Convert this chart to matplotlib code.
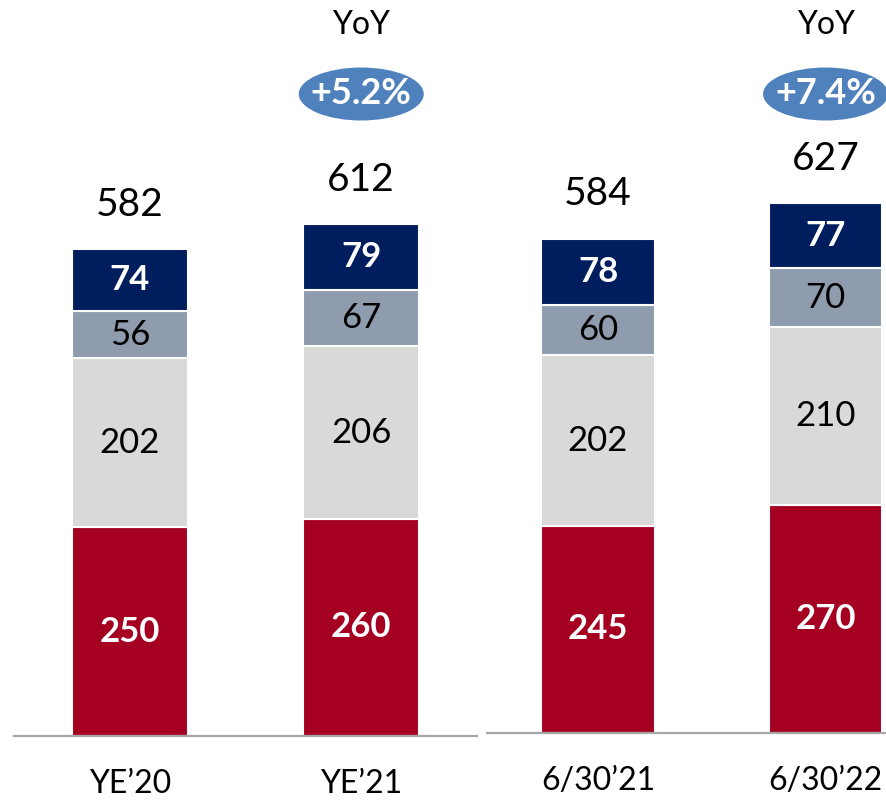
import matplotlib.pyplot as plt
import matplotlib.transforms as mtransforms
from matplotlib.patches import Ellipse
import numpy as np

plt.rcParams['font.family'] = ['Lato', 'DejaVu Sans']

# ---- data ----
groups = [["YE\u201920", "YE\u201921"], ["6/30\u201921", "6/30\u201922"]]
red_vals = [[250, 260], [245, 270]]
light_vals = [[202, 206], [202, 210]]
grey_vals = [[56, 67], [60, 70]]
navy_vals = [[74, 79], [78, 77]]
totals = [[582, 612], [584, 627]]
yoy = ["+5.2%", "+7.4%"]

colors = ["#A50021", "#D9D9D9", "#8F9CAE", "#001E5E"]
label_colors = ["white", "black", "black", "white"]
label_weights = ["bold", "normal", "normal", "bold"]

W, H = 887, 802
fig = plt.figure(figsize=(W / 100, H / 100), dpi=100)

# axes positions in pixels: left, right, baseline y, px per unit, xlim
layouts = [
    dict(x0=14, x1=477, base=736, ppu=0.836, xlim=(-0.5, 1.5)),
    dict(x0=487, x1=887, base=733, ppu=0.845, xlim=(-0.488, 1.27)),
]

for g, lay in enumerate(layouts):
    ax = fig.add_axes([lay["x0"] / W, (H - lay["base"]) / H,
                       (lay["x1"] - lay["x0"]) / W, lay["base"] / H])
    ax.set_xlim(*lay["xlim"])
    ax.set_ylim(0, lay["base"] / lay["ppu"])
    x = np.arange(2)
    bottom = np.zeros(2)
    series = [red_vals[g], light_vals[g], grey_vals[g], navy_vals[g]]
    for vals, c, lc, lw in zip(series, colors, label_colors, label_weights):
        bars = ax.bar(x, vals, bottom=bottom, width=0.5, color=c,
                      edgecolor="white", linewidth=1.5)
        ax.bar_label(bars, labels=[str(v) for v in vals], label_type="center",
                     color=lc, fontweight=lw, fontsize=25)
        bottom += np.array(vals)

    for i, t in enumerate(totals[g]):
        ax.annotate(str(t), (x[i], bottom[i]), xytext=(0, 32),
                    textcoords="offset points", ha="center", va="center",
                    fontsize=28, color="black")

    # YoY bubble above the second bar
    trans = mtransforms.blended_transform_factory(ax.transData, ax.transAxes)
    px_per_x = (lay["x1"] - lay["x0"]) / (lay["xlim"][1] - lay["xlim"][0])
    ax.add_patch(Ellipse((1, 1 - 94 / lay["base"]), 125 / px_per_x,
                         53 / lay["base"], transform=trans, facecolor="#4F81BD",
                         edgecolor="none", clip_on=False))
    ax.text(1, 1 - 94 / lay["base"], yoy[g], transform=trans, ha="center",
            va="center", color="white", fontweight="bold", fontsize=26)
    ax.text(1, 1 - 25 / lay["base"], "YoY", transform=trans, ha="center",
            va="center", color="black", fontsize=23)

    for s in ["top", "left", "right"]:
        ax.spines[s].set_visible(False)
    ax.spines["bottom"].set_color("#A6A6A6")
    ax.spines["bottom"].set_linewidth(1.6)
    ax.set_yticks([])
    ax.set_xticks(x)
    ax.set_xticklabels(groups[g], fontsize=23)
    ax.tick_params(axis="x", length=0, pad=24)

fig.savefig("out.png", dpi=100)
